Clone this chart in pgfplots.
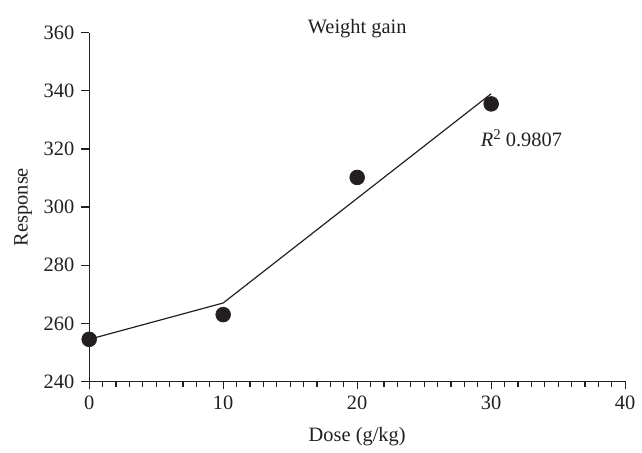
\documentclass[border=0pt]{standalone}
\usepackage{pgfplots}
\pgfplotsset{compat=1.18}
\usepackage{fontspec}
\setmainfont{Liberation Serif}
\definecolor{ink}{HTML}{231F20}
\begin{document}
\begin{tikzpicture}
\begin{axis}[
  scale only axis,
  width=270.5pt, height=176pt,
  xmin=0, xmax=40, ymin=240, ymax=360,
  axis lines=left,
  axis line style={-, ink, line width=0.6pt},
  xtick={0,10,20,30,40},
  ytick={240,260,...,360},
  minor x tick num=9,
  tick align=outside,
  tick style={ink, line width=0.6pt},
  major tick length=4pt,
  minor tick length=2.8pt,
  every tick label/.append style={font=\fontsize{10.3}{12}\selectfont, text=ink},
  /pgf/number format/assume math mode=true,
  xlabel={Dose (g/kg)},
  ylabel={Response},
  label style={font=\fontsize{10.3}{12}\selectfont, text=ink},
  xlabel style={yshift=-2pt},
  ylabel style={yshift=-1pt},
  clip=false,
]
\coordinate (O) at (rel axis cs:0,0);
\addplot[ink, line width=0.6pt] coordinates {(0,254.5) (10,267) (30,339)};
\addplot[only marks, mark=*, mark size=3.7pt, ink, mark options={fill=ink, draw=ink}] coordinates {
(0,254.5) (10,263) (20,310.2) (30,335.5)};
\node[anchor=base, font=\fontsize{10.3}{12}\selectfont, text=ink] at (rel axis cs:0.5,1) [yshift=-0.5pt] {Weight gain};
\node[anchor=base west, font=\fontsize{10.3}{12}\selectfont, text=ink, inner sep=0pt] at (axis cs:29.2,320.8) {\textit{R}\raisebox{0.8ex}{\fontsize{7.5}{8}\selectfont 2} 0.9807};
\end{axis}
\path (O) ++(-45pt,-32.5pt) rectangle ++(321pt,225pt);
\end{tikzpicture}
\end{document}
